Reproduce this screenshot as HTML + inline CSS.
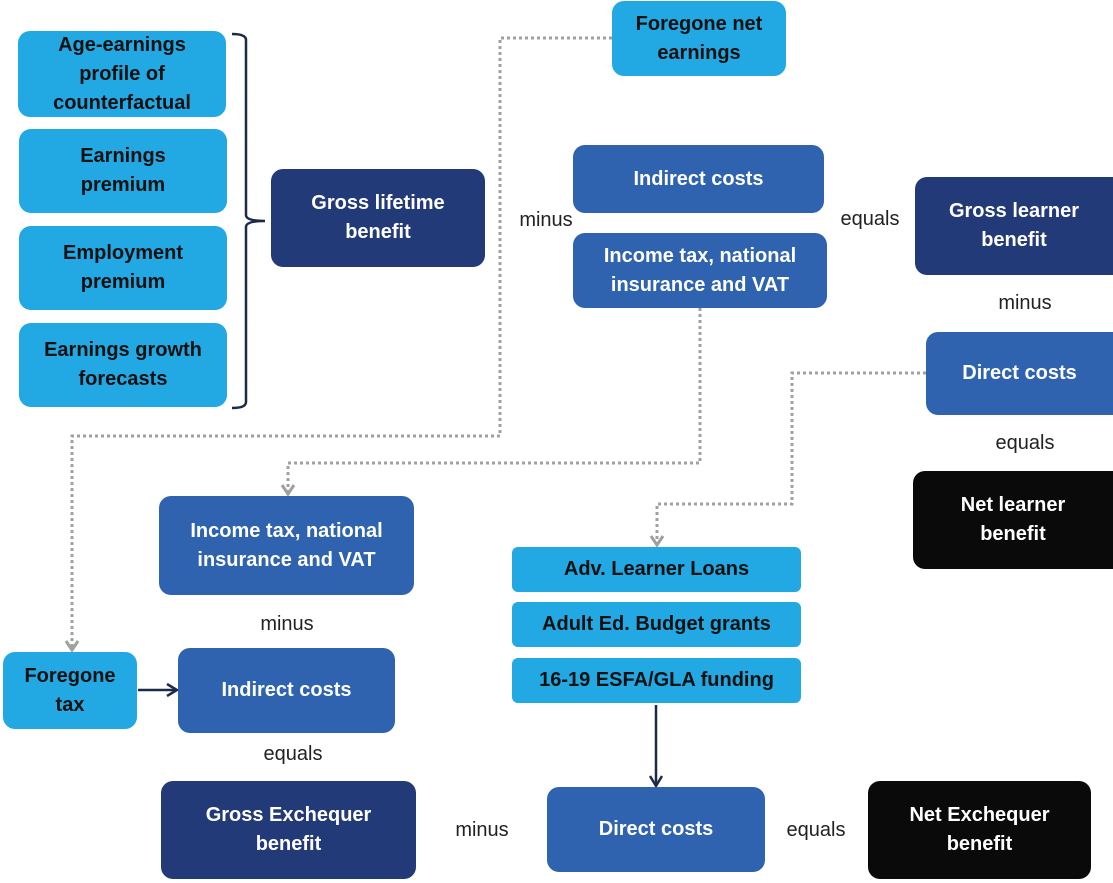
<!DOCTYPE html>
<html><head><style>
body{margin:0;width:1113px;height:883px;background:#fff;position:relative;overflow:hidden;font-family:"Liberation Sans",sans-serif;}
.b{position:absolute;display:flex;align-items:center;justify-content:center;text-align:center;font-weight:bold;font-size:20px;line-height:29px;border-radius:12px;color:#fff;box-sizing:border-box;}
.l{background:#22a8e2;color:#111;}
.m{background:#2f63b0;}
.n{background:#233a78;}
.k{background:#0a0a0a;}
.t{position:absolute;font-size:20px;color:#222;transform:translateX(-50%);}
svg{position:absolute;left:0;top:0;}
</style></head><body>
<svg width="1113" height="883">
<defs><marker id="ah" markerWidth="14" markerHeight="16" refX="10" refY="7" orient="auto" markerUnits="userSpaceOnUse"><path d="M1,1 L10,7 L1,13" fill="none" stroke="#a0a0a0" stroke-width="3"/></marker>
<marker id="as" markerWidth="14" markerHeight="14" refX="11" refY="7" orient="auto" markerUnits="userSpaceOnUse"><path d="M1,1 L11,7 L1,13" fill="none" stroke="#1c2a4a" stroke-width="2.5"/></marker></defs>
<g fill="none" stroke="#a0a0a0" stroke-width="3" stroke-dasharray="3,3">
<path d="M612,38 H500 V436 H72 V650" marker-end="url(#ah)"/>
<path d="M700,308 V463 H288 V494" marker-end="url(#ah)"/>
<path d="M926,373 H792 V504 H657 V545" marker-end="url(#ah)"/>
</g>
<path d="M656,705 V786" stroke="#1c2a4a" stroke-width="2.5" marker-end="url(#as)"/>
<path d="M138,690 H177" stroke="#1c2a4a" stroke-width="2.5" marker-end="url(#as)"/>
<path d="M232,34 Q246,34 246,40 V215 Q246,221 265,221 Q246,221 246,227 V402 Q246,408 232,408" fill="none" stroke="#1c2a4a" stroke-width="2.5"/>
</svg>
<div class="b l" style="left:18px;top:31px;width:208px;height:86px">Age-earnings<br>profile of<br>counterfactual</div>
<div class="b l" style="left:19px;top:129px;width:208px;height:84px">Earnings<br>premium</div>
<div class="b l" style="left:19px;top:226px;width:208px;height:84px">Employment<br>premium</div>
<div class="b l" style="left:19px;top:323px;width:208px;height:84px">Earnings growth<br>forecasts</div>
<div class="b n" style="left:271px;top:169px;width:214px;height:98px">Gross lifetime<br>benefit</div>
<div class="b l" style="left:612px;top:1px;width:174px;height:75px">Foregone net<br>earnings</div>
<div class="b m" style="left:573px;top:145px;width:251px;height:68px">Indirect costs</div>
<div class="b m" style="left:573px;top:233px;width:254px;height:75px">Income tax, national<br>insurance and VAT</div>
<div class="b n" style="left:915px;top:177px;width:198px;height:98px;border-radius:12px 0 0 12px">Gross learner<br>benefit</div>
<div class="b m" style="left:926px;top:332px;width:187px;height:83px;border-radius:12px 0 0 12px">Direct costs</div>
<div class="b k" style="left:913px;top:471px;width:200px;height:98px;border-radius:12px 0 0 12px">Net learner<br>benefit</div>
<div class="b m" style="left:159px;top:496px;width:255px;height:99px">Income tax, national<br>insurance and VAT</div>
<div class="b l" style="left:3px;top:652px;width:134px;height:77px">Foregone<br>tax</div>
<div class="b m" style="left:178px;top:648px;width:217px;height:85px">Indirect costs</div>
<div class="b n" style="left:161px;top:781px;width:255px;height:98px">Gross Exchequer<br>benefit</div>
<div class="b m" style="left:547px;top:787px;width:218px;height:85px">Direct costs</div>
<div class="b k" style="left:868px;top:781px;width:223px;height:98px">Net Exchequer<br>benefit</div>
<div class="b l" style="left:512px;top:547px;width:289px;height:45px;border-radius:6px">Adv. Learner Loans</div>
<div class="b l" style="left:512px;top:602px;width:289px;height:45px;border-radius:6px">Adult Ed. Budget grants</div>
<div class="b l" style="left:512px;top:658px;width:289px;height:45px;border-radius:6px">16-19 ESFA/GLA funding</div>
<div class="t" style="left:546px;top:209px">minus</div>
<div class="t" style="left:870px;top:208px">equals</div>
<div class="t" style="left:1025px;top:292px">minus</div>
<div class="t" style="left:1025px;top:432px">equals</div>
<div class="t" style="left:287px;top:613px">minus</div>
<div class="t" style="left:293px;top:743px">equals</div>
<div class="t" style="left:482px;top:819px">minus</div>
<div class="t" style="left:816px;top:819px">equals</div>
</body></html>
